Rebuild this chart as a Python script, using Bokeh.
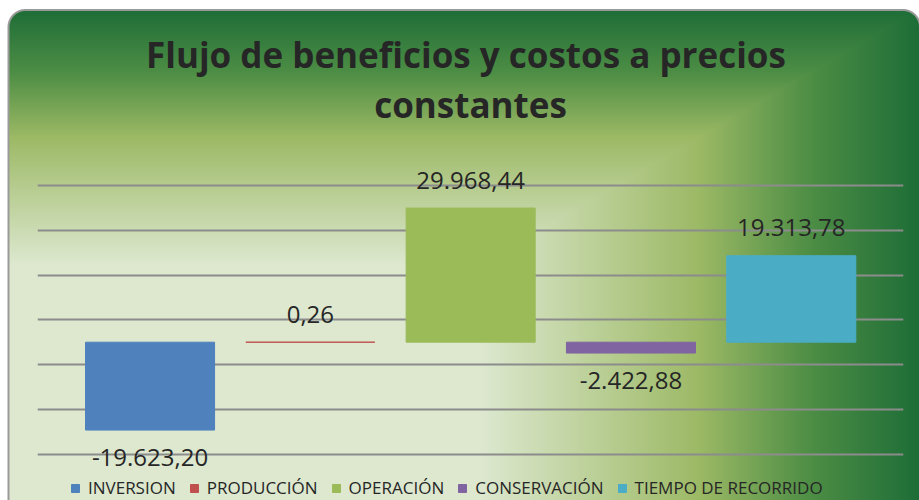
import base64
import struct
import zlib

import numpy as np
from bokeh.core.properties import value
from bokeh.embed import file_html
from bokeh.models import (ColumnDataSource, FixedTicker, Grid, Label, LabelSet,
                          Range1d)
from bokeh.plotting import figure
from bokeh.resources import INLINE

# ---------------- data ----------------
categories = ["INVERSION", "PRODUCCIÓN", "OPERACIÓN", "CONSERVACIÓN", "TIEMPO DE RECORRIDO"]
values = [-19623.20, 0.26, 29968.44, -2422.88, 19313.78]
colors = ["#4f81bd", "#c0504d", "#9bbb59", "#8064a2", "#4bacc6"]
grid_ticks = [-25000, -15000, -5000, 5000, 15000, 25000, 35000]
title_lines = ["Flujo de beneficios y costos  a precios", "constantes"]

W, H = 919, 500


def fmt_es(v):
    s = f"{v:,.2f}"
    return s.replace(",", "X").replace(".", ",").replace("X", ".")


# ---------------- background (rectangular gradient + rounded border) ----------------
def make_background(w, h):
    yy, xx = np.mgrid[0:h, 0:w].astype(float)
    px = xx + 0.5
    py = yy + 0.5
    tx = np.clip((px - 480.0) / (918.0 - 480.0), 0, 1)
    ty = np.clip((265.0 - py) / (265.0 - 10.0), 0, 1)
    t = np.maximum(tx, ty)
    stops = [0.0, 0.5, 0.75, 1.0]
    cols = np.array([[0xdd, 0xe8, 0xcf], [0x9c, 0xb9, 0x65], [0x4e, 0x8e, 0x45], [0x1e, 0x6d, 0x37]], float)
    grad = np.stack([np.interp(t, stops, cols[:, k]) for k in range(3)], axis=-1)

    # rounded rectangle SDF (top corners rounded, bottom open)
    x0, y0, x1, y1, r = 7.5, 9.0, 921.0, h + 200.0, 18.0
    cx, cy = (x0 + x1) / 2, (y0 + y1) / 2
    hx, hy = (x1 - x0) / 2, (y1 - y0) / 2
    qx = np.abs(px - cx) - hx + r
    qy = np.abs(py - cy) - hy + r
    sd = np.hypot(np.maximum(qx, 0), np.maximum(qy, 0)) + np.minimum(np.maximum(qx, qy), 0) - r
    a_out = np.clip(sd + 0.5, 0, 1)[..., None]
    a_in = np.clip(-(sd + 2.0) + 0.5, 0, 1)[..., None]
    a_b = np.clip(1 - a_out - a_in, 0, 1)
    white = np.array([255, 255, 255], float)
    gray = np.array([0x9a, 0x9a, 0x9a], float)
    img = white * a_out + grad * a_in + gray * a_b
    img = np.clip(np.round(img), 0, 255).astype(np.uint8)

    raw = b"".join(b"\x00" + img[i].tobytes() for i in range(h))

    def chunk(tag, data):
        return struct.pack(">I", len(data)) + tag + data + struct.pack(">I", zlib.crc32(tag + data) & 0xffffffff)

    png = (b"\x89PNG\r\n\x1a\n"
           + chunk(b"IHDR", struct.pack(">IIBBBBB", w, h, 8, 2, 0, 0, 0))
           + chunk(b"IDAT", zlib.compress(raw, 9))
           + chunk(b"IEND", b""))
    return base64.b64encode(png).decode("ascii")


bg64 = make_background(W, H)

# ---------------- figure ----------------
xs = list(range(len(categories)))
p = figure(width=W, height=H, output_backend="svg", toolbar_location=None,
           x_range=Range1d(-0.702, 4.700), y_range=Range1d(-35350, 76306),
           x_axis_location=None, y_axis_location=None, title=None,
           min_border_left=37, min_border_right=16, min_border_top=0, min_border_bottom=0)
p.background_fill_alpha = 0
p.border_fill_alpha = 0
p.outline_line_color = None
p.styles = {
    "background-image": f"url('data:image/png;base64,{bg64}')",
    "background-size": "100% 100%",
}
for g in p.grid:
    g.visible = False

grid = Grid(dimension=1, ticker=FixedTicker(ticks=grid_ticks),
            grid_line_color="#8c8c8c", grid_line_width=2)
p.add_layout(grid, "center")

for i, (cat, v, c) in enumerate(zip(categories, values, colors)):
    src = ColumnDataSource(dict(x=[xs[i]], top=[v]))
    p.vbar(x="x", top="top", bottom=0, width=0.805, source=src,
           fill_color=c, line_color=c, line_width=1, legend_label=cat)

lab_src = ColumnDataSource(dict(
    x=xs, y=values, text=[fmt_es(v) for v in values],
    off=[28 if v >= 0 else -27 for v in values]))
labels = LabelSet(x="x", y="y", text="text", y_offset="off", source=lab_src,
                  text_align="center", text_baseline="middle",
                  text_font=value("Open Sans"), text_font_size="24px", text_color="#262626")
p.add_layout(labels)

for line, ybase in zip(title_lines, [446, 396]):
    p.add_layout(Label(x=433, y=ybase, x_units="screen", y_units="screen", text=line,
                       text_align="center", text_baseline="alphabetic",
                       text_font="Open Sans", text_font_size="35px",
                       text_font_style="bold", text_color="#262626"))

lg = p.legend[0]
lg.orientation = "horizontal"
lg.location = (33, 1)
lg.padding = 0
lg.margin = 0
lg.spacing = 13
lg.label_standoff = 8
lg.glyph_width = 10
lg.glyph_height = 10
lg.label_text_font = "Open Sans"
lg.label_text_font_size = "17px"
lg.label_text_color = "#262626"
lg.background_fill_alpha = 0
lg.border_line_alpha = 0

open("out.html", "w").write(file_html(p, INLINE))
